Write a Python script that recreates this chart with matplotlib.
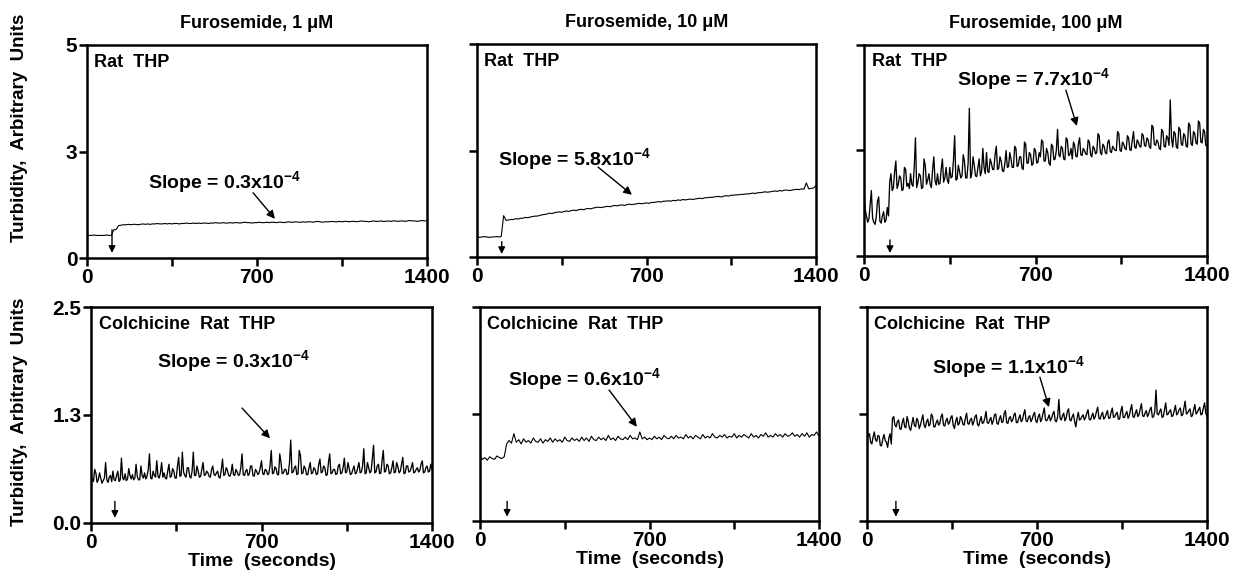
import numpy as np
import matplotlib
matplotlib.use("Agg")
import matplotlib.pyplot as plt

plt.rcParams['font.family'] = ['Liberation Sans', 'DejaVu Sans']
plt.rcParams['font.weight'] = 'bold'
plt.rcParams['mathtext.fontset'] = 'custom'
plt.rcParams['mathtext.rm'] = 'Liberation Sans:bold'
plt.rcParams['mathtext.bf'] = 'Liberation Sans:bold'

# sampling times (seconds): smooth traces every 10 s, noisy ones every 5 s
time_10 = np.arange(0, 1401, 10)
time_5 = np.arange(0, 1401, 5)

titles = ["Furosemide, 1 \u03bcM", "Furosemide, 10 \u03bcM", "Furosemide, 100 \u03bcM"]
row_labels = ["Rat  THP", "Colchicine  Rat  THP"]
slopes = ["0.3", "5.8", "7.7", "0.3", "0.6", "1.1"]

# top row: rat THP
rat_1uM = [
    0.53, 0.53, 0.53, 0.54, 0.53, 0.53, 0.53, 0.53, 0.54, 0.53,
    0.53, 0.66, 0.67, 0.76, 0.77, 0.78, 0.78, 0.79, 0.78, 0.79,
    0.79, 0.78, 0.79, 0.80, 0.79, 0.80, 0.79, 0.80, 0.80, 0.81,
    0.80, 0.80, 0.81, 0.80, 0.81, 0.80, 0.81, 0.81, 0.80, 0.81,
    0.81, 0.82, 0.81, 0.81, 0.82, 0.81, 0.82, 0.81, 0.82, 0.82,
    0.81, 0.82, 0.82, 0.83, 0.82, 0.82, 0.83, 0.82, 0.82, 0.83,
    0.82, 0.83, 0.83, 0.82, 0.83, 0.84, 0.83, 0.83, 0.82, 0.83,
    0.83, 0.84, 0.83, 0.83, 0.84, 0.83, 0.84, 0.84, 0.83, 0.84,
    0.84, 0.83, 0.84, 0.85, 0.84, 0.84, 0.85, 0.84, 0.84, 0.85,
    0.84, 0.85, 0.85, 0.84, 0.85, 0.86, 0.85, 0.84, 0.85, 0.85,
    0.85, 0.86, 0.85, 0.85, 0.86, 0.85, 0.86, 0.86, 0.85, 0.86,
    0.86, 0.85, 0.86, 0.87, 0.86, 0.86, 0.85, 0.86, 0.87, 0.86,
    0.86, 0.87, 0.86, 0.86, 0.87, 0.86, 0.87, 0.87, 0.86, 0.87,
    0.87, 0.86, 0.87, 0.88, 0.87, 0.87, 0.86, 0.87, 0.88, 0.87,
    0.87]

rat_10uM = [
    0.47, 0.46, 0.47, 0.48, 0.47, 0.46, 0.47, 0.47, 0.48, 0.47,
    0.48, 0.97, 0.86, 0.87, 0.88, 0.88, 0.90, 0.89, 0.91, 0.91,
    0.93, 0.92, 0.94, 0.95, 0.96, 0.96, 0.98, 0.99, 1.00, 1.01,
    1.03, 1.02, 1.04, 1.05, 1.06, 1.05, 1.07, 1.08, 1.07, 1.09,
    1.10, 1.09, 1.11, 1.12, 1.11, 1.13, 1.14, 1.13, 1.15, 1.16,
    1.17, 1.16, 1.17, 1.18, 1.19, 1.18, 1.20, 1.21, 1.20, 1.22,
    1.22, 1.21, 1.23, 1.24, 1.23, 1.24, 1.25, 1.26, 1.25, 1.26,
    1.27, 1.26, 1.28, 1.28, 1.29, 1.30, 1.29, 1.31, 1.31, 1.32,
    1.31, 1.33, 1.32, 1.34, 1.33, 1.35, 1.34, 1.35, 1.36, 1.35,
    1.36, 1.37, 1.38, 1.37, 1.39, 1.39, 1.40, 1.40, 1.41, 1.42,
    1.42, 1.41, 1.43, 1.44, 1.43, 1.45, 1.45, 1.46, 1.46, 1.47,
    1.47, 1.48, 1.48, 1.49, 1.50, 1.49, 1.51, 1.51, 1.52, 1.53,
    1.52, 1.53, 1.54, 1.55, 1.54, 1.56, 1.55, 1.57, 1.57, 1.56,
    1.57, 1.58, 1.59, 1.58, 1.60, 1.59, 1.74, 1.60, 1.61, 1.62,
    1.68]

# 5 s sampling, 20 values per 100 s
rat_100uM = [
    1.48, 1.10, 0.95, 0.80, 0.88, 1.20, 1.55, 0.90, 0.80, 0.75, 0.92, 1.30, 1.40, 0.82, 0.78, 0.95, 1.05, 0.80, 0.85, 1.15,
    0.95, 1.75, 1.95, 1.55, 1.62, 2.00, 2.25, 1.60, 1.70, 1.90, 1.85, 1.55, 1.58, 2.10, 2.05, 1.65, 1.72, 1.60, 1.95, 1.70,
    1.65, 2.10, 2.80, 1.62, 1.75, 1.95, 1.90, 1.60, 1.62, 2.30, 2.15, 1.70, 1.80, 1.95, 1.70, 1.62, 2.05, 2.35, 1.78, 1.68,
    1.95, 1.70, 1.72, 2.05, 2.30, 1.75, 1.85, 2.10, 1.80, 1.72, 2.10, 1.85, 1.88, 2.25, 2.85, 1.80, 1.82, 2.15, 2.00, 1.85,
    1.90, 2.40, 2.25, 1.85, 1.85, 2.20, 3.50, 1.85, 1.95, 2.35, 2.15, 1.90, 1.88, 2.10, 2.30, 1.90, 2.00, 2.55, 2.10, 1.95,
    2.45, 2.00, 1.98, 2.30, 2.20, 2.05, 2.05, 2.40, 2.60, 2.05, 2.08, 2.35, 2.25, 2.02, 2.00, 2.20, 2.50, 2.10, 2.12, 2.45,
    2.30, 2.10, 2.10, 2.60, 2.55, 2.12, 2.15, 2.35, 2.35, 2.08, 2.05, 2.70, 2.65, 2.20, 2.20, 2.45, 2.40, 2.15, 2.18, 2.55,
    2.50, 2.20, 2.22, 2.45, 2.35, 2.75, 2.70, 2.25, 2.25, 2.55, 2.45, 2.20, 2.15, 2.65, 2.60, 2.28, 2.30, 2.50, 3.00, 2.40,
    2.35, 2.60, 2.55, 2.30, 2.28, 2.80, 2.75, 2.38, 2.40, 2.55, 2.30, 2.70, 2.62, 2.36, 2.35, 2.65, 2.80, 2.40, 2.38, 2.55,
    2.50, 2.42, 2.40, 2.75, 2.70, 2.40, 2.35, 2.60, 2.55, 2.42, 2.45, 2.90, 2.85, 2.45, 2.40, 2.65, 2.60, 2.45, 2.42, 2.70,
    2.75, 2.48, 2.45, 2.60, 2.55, 2.50, 2.50, 2.95, 2.90, 2.50, 2.48, 2.70, 2.65, 2.55, 2.52, 2.85, 2.80, 2.52, 2.50, 2.75,
    2.95, 2.58, 2.55, 2.75, 2.70, 2.60, 2.58, 2.90, 2.85, 2.62, 2.60, 2.80, 2.75, 2.58, 2.55, 3.10, 3.05, 2.65, 2.62, 2.75,
    2.70, 2.55, 2.52, 3.00, 2.95, 2.60, 2.58, 2.85, 2.80, 2.62, 3.70, 2.80, 2.58, 2.95, 2.90, 2.58, 2.55, 3.05, 3.00, 2.65,
    2.62, 2.90, 2.85, 2.60, 2.58, 3.15, 3.10, 2.65, 2.62, 2.95, 2.90, 2.68, 2.65, 3.20, 3.15, 2.70, 2.68, 3.00, 2.95, 2.62,
    2.60]

# bottom row: colchicine rat THP (5 s sampling)
colch_1uM = [
    0.55, 0.50, 0.48, 0.62, 0.58, 0.47, 0.50, 0.58, 0.52, 0.46, 0.49, 0.52, 0.70, 0.50, 0.47, 0.53, 0.55, 0.48, 0.60, 0.50,
    0.49, 0.55, 0.60, 0.48, 0.50, 0.75, 0.52, 0.50, 0.57, 0.49, 0.51, 0.63, 0.55, 0.51, 0.56, 0.50, 0.52, 0.68, 0.54, 0.50,
    0.50, 0.66, 0.55, 0.52, 0.58, 0.51, 0.54, 0.62, 0.80, 0.52, 0.51, 0.60, 0.55, 0.53, 0.72, 0.54, 0.52, 0.58, 0.70, 0.53,
    0.58, 0.52, 0.51, 0.60, 0.68, 0.53, 0.54, 0.63, 0.60, 0.52, 0.52, 0.66, 0.76, 0.54, 0.55, 0.82, 0.59, 0.55, 0.53, 0.64,
    0.64, 0.54, 0.52, 0.60, 0.82, 0.55, 0.55, 0.66, 0.60, 0.53, 0.54, 0.62, 0.70, 0.55, 0.56, 0.60, 0.58, 0.54, 0.53, 0.62,
    0.66, 0.56, 0.55, 0.58, 0.60, 0.53, 0.52, 0.62, 0.74, 0.55, 0.56, 0.64, 0.61, 0.55, 0.54, 0.58, 0.68, 0.56, 0.55, 0.62,
    0.59, 0.55, 0.56, 0.64, 0.80, 0.56, 0.55, 0.60, 0.62, 0.55, 0.57, 0.66, 0.66, 0.55, 0.54, 0.62, 0.60, 0.56, 0.58, 0.64,
    0.72, 0.57, 0.56, 0.62, 0.61, 0.56, 0.57, 0.66, 0.84, 0.57, 0.58, 0.65, 0.63, 0.56, 0.56, 0.80, 0.70, 0.57, 0.58, 0.62,
    0.62, 0.56, 0.57, 0.70, 0.96, 0.58, 0.59, 0.64, 0.66, 0.56, 0.57, 0.84, 0.78, 0.57, 0.58, 0.66, 0.63, 0.56, 0.56, 0.64,
    0.70, 0.57, 0.58, 0.64, 0.62, 0.56, 0.57, 0.68, 0.74, 0.58, 0.59, 0.66, 0.64, 0.55, 0.56, 0.70, 0.80, 0.57, 0.58, 0.62,
    0.62, 0.56, 0.57, 0.66, 0.68, 0.57, 0.58, 0.64, 0.75, 0.58, 0.59, 0.70, 0.63, 0.56, 0.57, 0.62, 0.66, 0.57, 0.58, 0.64,
    0.70, 0.58, 0.59, 0.66, 0.86, 0.57, 0.58, 0.70, 0.64, 0.58, 0.60, 0.74, 0.90, 0.58, 0.59, 0.66, 0.68, 0.57, 0.58, 0.72,
    0.84, 0.59, 0.60, 0.68, 0.66, 0.57, 0.58, 0.64, 0.72, 0.58, 0.59, 0.70, 0.65, 0.58, 0.60, 0.68, 0.76, 0.57, 0.58, 0.66,
    0.66, 0.59, 0.60, 0.64, 0.70, 0.58, 0.59, 0.62, 0.64, 0.59, 0.61, 0.68, 0.72, 0.58, 0.59, 0.64, 0.66, 0.59, 0.60, 0.68,
    0.62]

colch_10uM = [
    0.76, 0.72, 0.74, 0.71, 0.75, 0.73, 0.72, 0.76, 0.74, 0.73,
    0.75, 0.90, 0.94, 0.91, 1.02, 0.92, 0.95, 0.90, 0.96, 0.92,
    0.94, 0.91, 0.97, 0.93, 0.92, 0.96, 0.91, 0.95, 0.93, 0.97,
    0.92, 0.96, 0.93, 0.95, 0.92, 0.98, 0.94, 0.93, 0.97, 0.94,
    0.96, 0.93, 0.98, 0.94, 0.97, 0.93, 0.99, 0.95, 0.94, 0.98,
    0.95, 0.97, 0.94, 1.00, 0.95, 0.97, 0.94, 0.99, 0.96, 0.95,
    0.98, 0.95, 1.00, 0.96, 0.97, 0.95, 1.04, 0.96, 0.98, 0.95,
    0.97, 0.95, 0.99, 0.96, 0.98, 0.95, 1.00, 0.97, 0.96, 0.99,
    0.96, 1.00, 0.97, 0.98, 0.96, 1.01, 0.97, 0.99, 0.96, 1.00,
    0.98, 0.96, 1.01, 0.97, 0.99, 0.97, 1.02, 0.98, 0.97, 1.00,
    0.98, 1.01, 0.97, 0.99, 0.98, 1.02, 0.97, 1.00, 0.98, 1.01,
    0.99, 0.97, 1.02, 0.98, 1.00, 0.97, 1.01, 0.99, 1.03, 0.98,
    1.00, 0.98, 1.02, 0.99, 1.01, 0.98, 1.02, 0.99, 1.00, 1.03,
    0.99, 1.01, 0.98, 1.02, 0.99, 1.03, 0.98, 1.01, 1.00, 1.04,
    0.99]

colch_100uM = [
    0.96, 1.00, 1.02, 0.92, 0.90, 0.98, 1.04, 0.95, 0.93, 1.00, 0.99, 0.88, 0.88, 0.96, 1.01, 0.94, 0.92, 0.86, 0.97, 1.02,
    0.90, 1.20, 1.22, 1.12, 1.10, 1.16, 1.18, 1.08, 1.07, 1.15, 1.20, 1.10, 1.09, 1.22, 1.16, 1.08, 1.06, 1.14, 1.21, 1.12,
    1.10, 1.20, 1.17, 1.08, 1.12, 1.18, 1.24, 1.12, 1.09, 1.16, 1.19, 1.11, 1.13, 1.25, 1.22, 1.10, 1.10, 1.15, 1.18, 1.12,
    1.14, 1.22, 1.25, 1.12, 1.11, 1.17, 1.20, 1.13, 1.15, 1.21, 1.23, 1.12, 1.08, 1.16, 1.21, 1.12, 1.14, 1.22, 1.19, 1.13,
    1.12, 1.20, 1.26, 1.14, 1.13, 1.18, 1.20, 1.12, 1.16, 1.22, 1.24, 1.13, 1.11, 1.17, 1.22, 1.14, 1.15, 1.20, 1.28, 1.15,
    1.14, 1.18, 1.21, 1.13, 1.17, 1.24, 1.25, 1.14, 1.13, 1.19, 1.23, 1.15, 1.16, 1.26, 1.29, 1.15, 1.14, 1.20, 1.22, 1.16,
    1.18, 1.24, 1.26, 1.15, 1.15, 1.20, 1.24, 1.16, 1.18, 1.25, 1.30, 1.17, 1.16, 1.21, 1.23, 1.16, 1.19, 1.24, 1.27, 1.17,
    1.15, 1.22, 1.25, 1.16, 1.19, 1.26, 1.32, 1.18, 1.17, 1.20, 1.24, 1.17, 1.20, 1.25, 1.28, 1.17, 1.16, 1.22, 1.42, 1.20,
    1.18, 1.23, 1.26, 1.17, 1.20, 1.28, 1.31, 1.18, 1.17, 1.22, 1.25, 1.16, 1.10, 1.20, 1.27, 1.18, 1.19, 1.22, 1.24, 1.18,
    1.21, 1.26, 1.30, 1.19, 1.18, 1.22, 1.26, 1.19, 1.22, 1.28, 1.33, 1.20, 1.19, 1.24, 1.27, 1.19, 1.21, 1.25, 1.29, 1.20,
    1.20, 1.27, 1.32, 1.21, 1.22, 1.25, 1.27, 1.19, 1.19, 1.28, 1.34, 1.21, 1.21, 1.25, 1.28, 1.20, 1.23, 1.30, 1.36, 1.22,
    1.21, 1.26, 1.30, 1.22, 1.24, 1.31, 1.37, 1.23, 1.22, 1.26, 1.29, 1.22, 1.25, 1.30, 1.33, 1.21, 1.22, 1.28, 1.53, 1.25,
    1.24, 1.28, 1.31, 1.21, 1.22, 1.30, 1.38, 1.24, 1.25, 1.28, 1.30, 1.22, 1.23, 1.29, 1.35, 1.24, 1.26, 1.30, 1.32, 1.23,
    1.24, 1.32, 1.40, 1.25, 1.26, 1.29, 1.31, 1.22, 1.23, 1.30, 1.36, 1.25, 1.27, 1.30, 1.33, 1.24, 1.25, 1.32, 1.38, 1.26,
    1.22]

traces = [rat_1uM, rat_10uM, rat_100uM, colch_1uM, colch_10uM, colch_100uM]

# slope label position, arrow tail and arrow tip (data units)
slope_text_xy = [(250, 1.76), (85, 2.28), (380, 4.17), (270, 1.87), (115, 1.65), (268, 1.79)]
slope_tail = [(684, 1.53), (500, 2.11), (824, 3.93), (620, 1.33), (533, 1.53), (712, 1.68)]
slope_tip = [(774, 0.92), (640, 1.46), (869, 3.08), (735, 0.98), (648, 1.10), (749, 1.33)]

# injection marker (time, top, bottom)
inject_t = [103, 102, 106, 98, 112, 119]
inject_top = [0.66, 0.36, 0.38, 0.25, 0.23, 0.23]
inject_bot = [0.12, 0.07, 0.07, 0.06, 0.05, 0.05]

# panel boxes in pixels: left, right, top, bottom
W, H = 1235, 572
boxes = [(87, 427, 45, 258), (477, 816, 44, 257), (864, 1207, 45, 256),
         (91, 432, 307, 523), (480, 819, 307, 521), (867, 1207, 307, 521)]


def make_axes(fig, box):
    l, r, t, b = box
    return fig.add_axes([l / W, 1 - b / H, (r - l) / W, (b - t) / H])


def style_axes(ax, row, col):
    ax.set_xlim(0, 1400)
    ax.set_xticks([0, 350, 700, 1050, 1400])
    ax.set_xticklabels(["0", "", "700", "", "1400"])
    if row == 0:
        ax.set_ylim(0, 5)
        ax.set_yticks([0, 2.5, 5])
        ylabs = ["0", "3", "5"]
    else:
        ax.set_ylim(0, 2.5)
        ax.set_yticks([0, 1.25, 2.5])
        ylabs = ["0.0", "1.3", "2.5"]
    ax.set_yticklabels(ylabs if col == 0 else ["", "", ""])
    for sp in ax.spines.values():
        sp.set_linewidth(1.8)
    ax.tick_params(direction='out', length=6, width=1.8, labelsize=15, pad=1)


def arrow(ax, tip, tail, size):
    ax.annotate('', xy=tip, xytext=tail,
                arrowprops=dict(arrowstyle='-|>', lw=1, color='black',
                                mutation_scale=size, shrinkA=0, shrinkB=0))


def main():
    fig = plt.figure(figsize=(W / 100, H / 100), dpi=100)

    for i, box in enumerate(boxes):
        row, col = divmod(i, 3)
        ax = make_axes(fig, box)
        noisy = len(traces[i]) == len(time_5)
        t = time_5 if noisy else time_10
        ax.plot(t, traces[i], color='black', lw=0.95 if noisy else 0.8)
        style_axes(ax, row, col)

        ax.text(0.022, 0.92, row_labels[row], transform=ax.transAxes,
                fontsize=13, ha='left', va='center')
        ax.text(slope_text_xy[i][0], slope_text_xy[i][1],
                "Slope = %sx$10^{-4}$" % slopes[i], fontsize=14,
                ha='left', va='center')
        arrow(ax, slope_tip[i], slope_tail[i], 12)
        arrow(ax, (inject_t[i], inject_bot[i]), (inject_t[i], inject_top[i]), 10)

        if row == 0:
            ax.set_title(titles[col], fontsize=13, fontweight='bold', pad=12)
        else:
            ax.set_xlabel("Time  (seconds)", fontsize=14, fontweight='bold',
                          labelpad=1)

    fig.text(20 / W, 1 - 128 / H, "Turbidity,  Arbitrary  Units", rotation=90,
             fontsize=13.5, ha='center', va='center')
    fig.text(20 / W, 1 - 412 / H, "Turbidity,  Arbitrary  Units", rotation=90,
             fontsize=13.5, ha='center', va='center')

    fig.savefig("out.png", dpi=100)


if __name__ == "__main__":
    main()
